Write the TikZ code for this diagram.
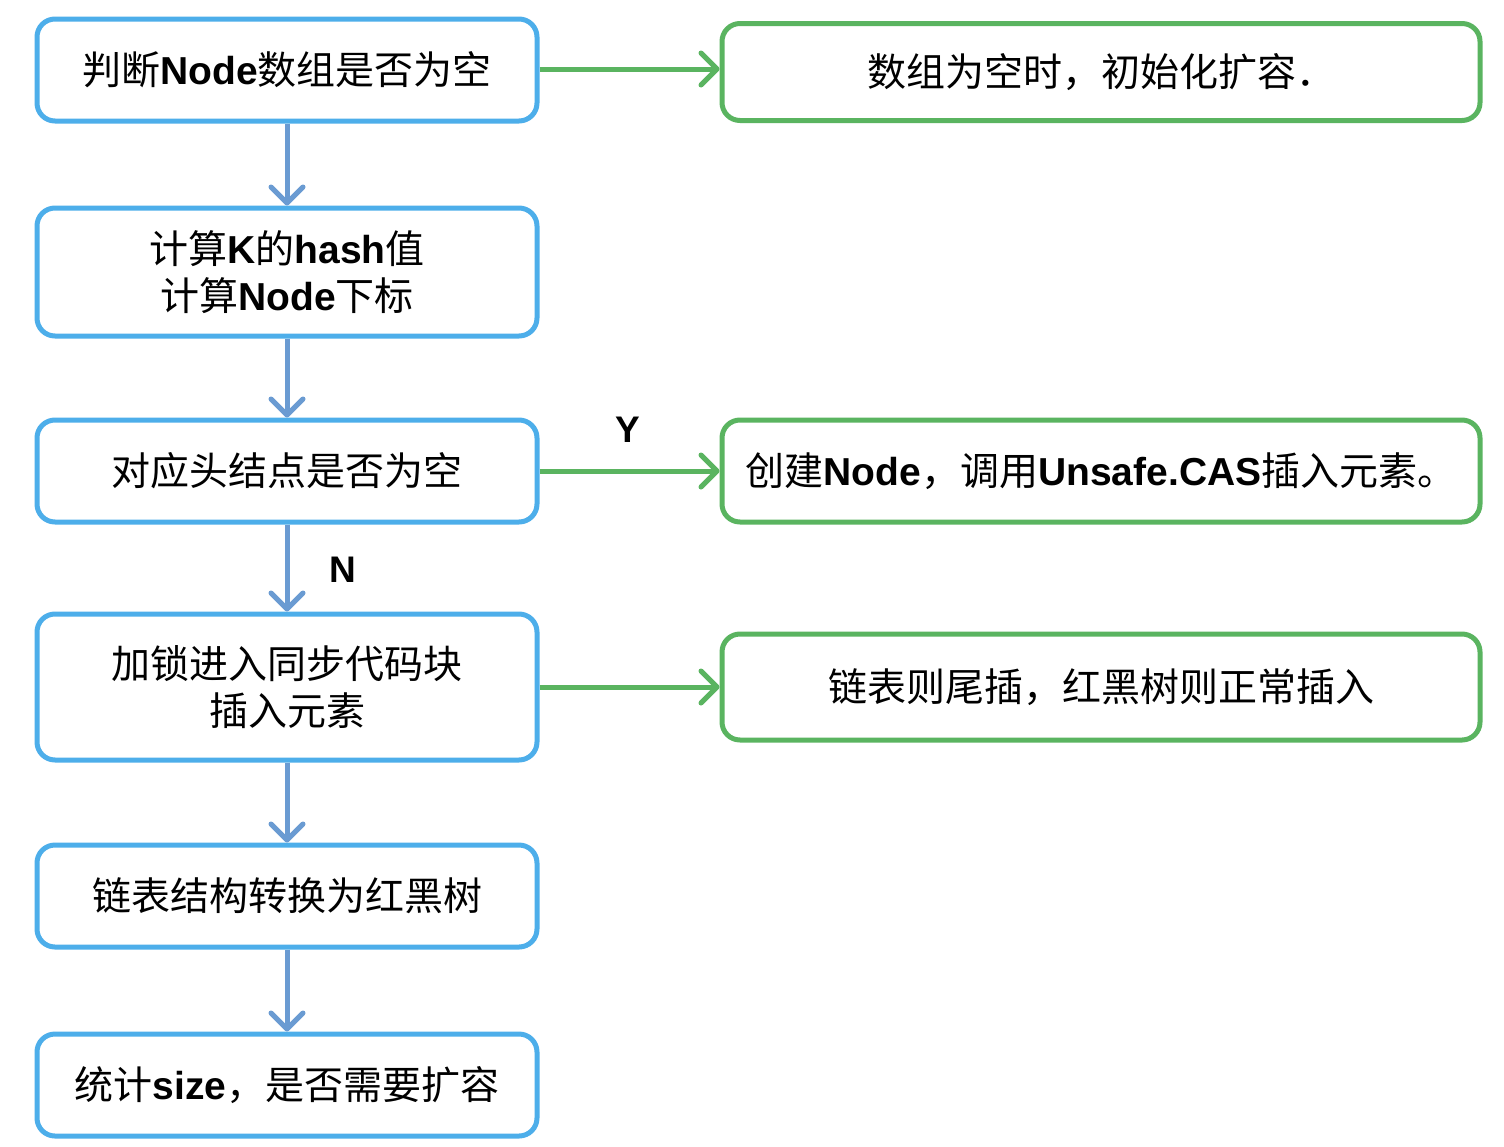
\documentclass[tikz,border=0pt]{standalone}
\usepackage{fontspec}
\setmainfont{Noto Sans CJK SC}
\newfontfamily\enfont{Liberation Sans}
\newcommand\en[1]{{\enfont\bfseries #1}}
\usetikzlibrary{arrows.meta}
\definecolor{bboxc}{HTML}{4DAEEA}
\definecolor{barrc}{HTML}{6A9BD2}
\definecolor{gboxc}{HTML}{5AB460}
\begin{document}
\begin{tikzpicture}[x=1pt,y=-1pt,
  basebox/.style={line width=5pt, rounded corners=18pt, align=center, inner sep=0pt,
    font=\fontsize{39}{47}\selectfont, fill=white},
  lbox/.style={basebox, draw=bboxc, minimum width=500pt},
  rbox/.style={basebox, draw=gboxc, minimum width=758pt},
  barrow/.style={draw=barrc, line width=5pt, -{Straight Barb[length=16pt,width=32pt,round]}},
  garrow/.style={draw=gboxc, line width=5pt, -{Straight Barb[length=16pt,width=32pt,round]}},
  lbl/.style={font=\fontsize{37}{40}\selectfont\enfont\bfseries, inner sep=0pt}
]
\useasboundingbox (0,0) rectangle (1504,1146);
\fill[white] (0,0) rectangle (1504,1146);

\node[lbox, minimum height=102pt] (n1) at (287,70) {判断\en{Node}数组是否为空};
\node[lbox, minimum height=128pt] (n2) at (287,272) {计算\en{K}的\en{hash}值\\计算\en{Node}下标};
\node[lbox, minimum height=102pt] (n3) at (287,471) {对应头结点是否为空};
\node[lbox, minimum height=146pt] (n4) at (287,687) {加锁进入同步代码块\\插入元素};
\node[lbox, minimum height=102pt] (n5) at (287,896) {链表结构转换为红黑树};
\node[lbox, minimum height=102pt] (n6) at (287,1085) {统计\en{size}，是否需要扩容};

\node[rbox, minimum height=97pt] (r1) at (1101,72) {数组为空时，初始化扩容．};
\node[rbox, minimum height=102pt] (r2) at (1101,471) {创建\en{Node}，调用\en{Unsafe.CAS}插入元素。};
\node[rbox, minimum height=106pt] (r3) at (1101,687) {链表则尾插，红黑树则正常插入};

\draw[barrow] (n1) -- (n2);
\draw[barrow] (n2) -- (n3);
\draw[barrow] (n3) -- (n4);
\draw[barrow] (n4) -- (n5);
\draw[barrow] (n5) -- (n6);

\draw[garrow] ([yshift=1pt]n1.east) -- ([yshift=1pt]n1.east -| r1.west);
\draw[garrow] (n3.east) -- (n3.east -| r2.west);
\draw[garrow] (n4.east) -- (n4.east -| r3.west);

\node[lbl] (ylab) at (628,430) {Y};
\node[lbl] (nlab) at (343,570) {N};
\end{tikzpicture}
\end{document}
